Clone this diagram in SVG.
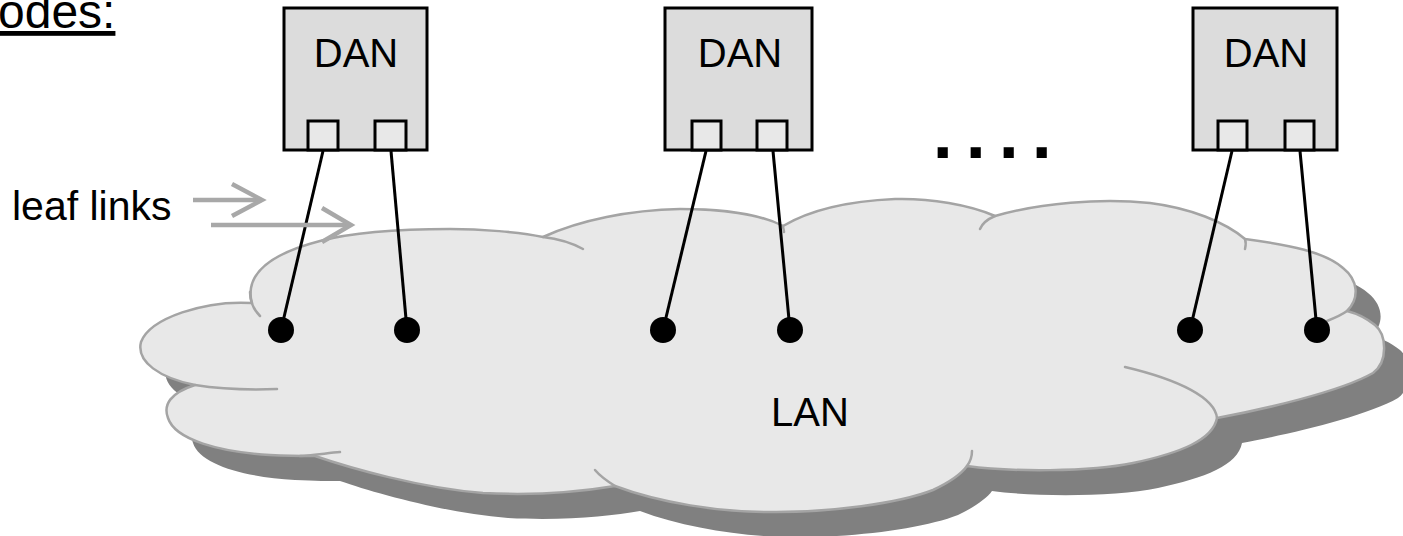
<svg xmlns="http://www.w3.org/2000/svg" width="1403" height="536" viewBox="0 0 1403 536">
<defs>
<style>
.txt{font-family:"Liberation Sans",Arial,sans-serif;fill:#000}
.box{fill:#dcdcdc;stroke:#000;stroke-width:3}
.port{fill:#e8e8e8;stroke:#000;stroke-width:3}
.link{stroke:#000;stroke-width:3;fill:none}
.dot{fill:#000}
.arrow{stroke:#a8a8a8;stroke-width:4.5;fill:none}
.cloud{fill:#e8e8e8;stroke:#a4a4a4;stroke-width:2.5;stroke-linejoin:round}
.hook{fill:none;stroke:#a4a4a4;stroke-width:2.5;stroke-linecap:round}
.shadow{fill:#808080}
</style>
<path id="cloudShape" d="M 252,303 C 205,300 150,318 141,342 C 136,362 160,378 195,385 C 170,393 163,405 168,418 C 175,440 220,452 270,455 C 290,456 305,456 315,456 C 350,468 420,488 483,493 C 540,496 585,491 615,486 C 660,503 720,512 767,512 C 830,513 900,503 933,490 C 950,482 962,473 967,466 C 1010,472 1090,472 1133,463 C 1180,453 1213,440 1217,418 C 1260,410 1340,392 1373,373 C 1388,362 1387,335 1375,325 C 1365,317 1355,313 1347,311 C 1360,298 1358,280 1343,268 C 1325,252 1290,245 1245,239 C 1225,222 1190,208 1150,203 C 1100,198 1040,203 995,216 C 970,205 930,198 895,199 C 850,201 810,210 783,226 C 760,214 720,209 680,209 C 630,210 580,220 543,237 C 520,232 480,229 450,229 C 400,229 350,233 320,241 C 285,250 255,265 251,288 C 250,295 251,300 252,303 Z"/>
</defs>

<g id="title">
<text class="txt" x="-2" y="28" font-size="48" text-decoration="underline">odes:</text>
</g>

<g id="lan-cloud">
<use href="#cloudShape" class="shadow" transform="translate(25,25)"/>
<use href="#cloudShape" class="cloud"/>
<path class="hook" d="M 250,292 C 250,302 254,310 260,316"/>
<path class="hook" d="M 195,385 C 220,389 250,390 277,389"/>
<path class="hook" d="M 300,456 C 315,455 328,453 340,452"/>
<path class="hook" d="M 615,486 C 607,481 600,476 595,470"/>
<path class="hook" d="M 967,466 C 970,462 972,457 972,451"/>
<path class="hook" d="M 1217,418 C 1215,398 1180,380 1125,367"/>
<path class="hook" d="M 1347,311 C 1343,314 1337,317 1327,321"/>
<path class="hook" d="M 1245,239 C 1246,242 1246,245 1245,249"/>
<path class="hook" d="M 995,216 C 988,219 982,224 980,229"/>
<path class="hook" d="M 783,226 C 783,228 784,230 784,232"/>
<path class="hook" d="M 543,237 C 560,239 572,243 583,249"/>
<text class="txt" x="810" y="426" font-size="40" text-anchor="middle">LAN</text>
</g>

<g id="dan1">
<rect class="box" x="284" y="8" width="143" height="142"/>
<rect class="port" x="308" y="121" width="30" height="29"/>
<rect class="port" x="375" y="121" width="31" height="29"/>
<text class="txt" x="356" y="67" font-size="40" text-anchor="middle">DAN</text>
</g>

<g id="dan2">
<rect class="box" x="665" y="8" width="147" height="142"/>
<rect class="port" x="692" y="121" width="29" height="29"/>
<rect class="port" x="757" y="121" width="30" height="29"/>
<text class="txt" x="740" y="67" font-size="40" text-anchor="middle">DAN</text>
</g>

<g id="dan3">
<rect class="box" x="1193" y="8" width="144" height="142"/>
<rect class="port" x="1218" y="121" width="29" height="29"/>
<rect class="port" x="1285" y="121" width="29" height="29"/>
<text class="txt" x="1266" y="67" font-size="40" text-anchor="middle">DAN</text>
</g>

<g id="ellipsis">
<text class="txt" x="932.8" y="157.7" font-size="72" font-weight="bold" letter-spacing="13">....</text>
</g>

<g id="connectors">
<line class="link" x1="323" y1="151" x2="281" y2="330"/>
<line class="link" x1="391" y1="151" x2="407" y2="330"/>
<line class="link" x1="706" y1="151" x2="663" y2="330"/>
<line class="link" x1="773" y1="151" x2="790" y2="330"/>
<line class="link" x1="1232" y1="151" x2="1190" y2="330"/>
<line class="link" x1="1300" y1="151" x2="1317" y2="330"/>
<circle class="dot" cx="281" cy="330" r="13"/>
<circle class="dot" cx="407" cy="330" r="13"/>
<circle class="dot" cx="663" cy="330" r="13"/>
<circle class="dot" cx="790" cy="330" r="13"/>
<circle class="dot" cx="1190" cy="330" r="13"/>
<circle class="dot" cx="1317" cy="330" r="13"/>
</g>

<g id="leaf-links">
<text class="txt" x="12" y="220" font-size="41">leaf links</text>
<line class="arrow" x1="193" y1="200" x2="261" y2="200"/>
<polyline class="arrow" points="232,184 262,200 232,216"/>
<line class="arrow" x1="211" y1="225" x2="350" y2="225"/>
<polyline class="arrow" points="322,208 351,225 322,242"/>
</g>
</svg>
